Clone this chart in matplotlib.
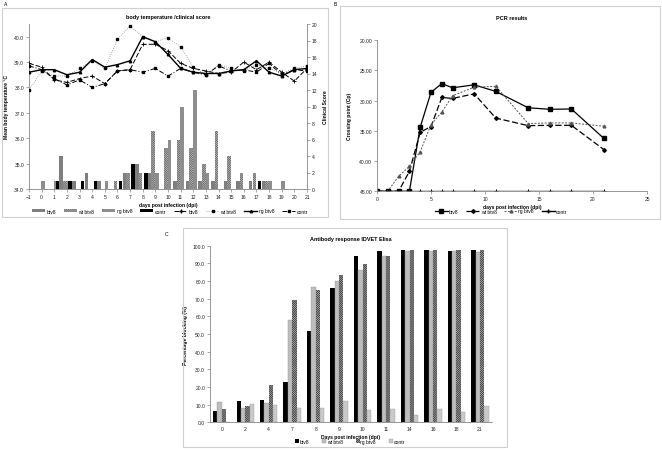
import matplotlib
matplotlib.use('Agg')
import matplotlib.pyplot as plt
import numpy as np
from matplotlib.patches import Rectangle, Patch
from matplotlib.lines import Line2D

plt.rcParams['font.family'] = ['Liberation Sans', 'DejaVu Sans']
plt.rcParams['hatch.linewidth'] = 0.35

# ---------------- Panel A data ----------------
days_a = list(range(-1, 22))
temp_btv8 = [38.95, 38.8, 38.3, 38.2, 38.35, 38.45, 38.15, 38.65, 38.7, 39.7, 39.7, 39.45, 38.95,
             38.75, 38.65, 38.55, 38.6, 39.0, 38.7, 39.0, 38.6, 38.25, 38.75]
temp_wt = [37.9, 38.65, 38.45, 38.45, 38.75, 39.05, 38.75, 39.9, 40.42, 40.0, 39.8, 39.95, 39.6,
           38.8, 38.5, 38.9, 38.75, 38.65, 38.9, 38.75, 38.55, 38.75, 38.85]
temp_rg = [38.6, 38.7, 38.7, 38.5, 38.6, 39.1, 38.8, 38.9, 39.05, 40.0, 39.8, 39.3, 38.75,
           38.6, 38.55, 38.55, 38.65, 38.7, 39.05, 38.6, 38.45, 38.7, 38.75]
temp_contr = [38.85, 38.7, 38.35, 38.1, 38.3, 38.0, 38.15, 38.65, 38.7, 38.6, 38.75, 38.45, 38.75,
              38.6, 38.5, 38.85, 38.65, 38.7, 38.6, 38.95, 38.5, 38.7, 38.65]
clin_btv8 = [0, 0, 0, 4, 1, 2, 1, 0, 2, 3, 2, 0, 1, 1, 1, 1, 1, 1, 1, 1, 0, 0, 0]
clin_wt = [0, 0, 0, 1, 0, 0, 0, 1, 2, 2, 7, 5, 6, 5, 3, 7, 4, 2, 2, 1, 0, 0, 0]
clin_rg = [0, 1, 1, 1, 0, 0, 1, 0, 0, 0, 2, 6, 10, 12, 2, 0, 0, 0, 0, 1, 1, 0, 0]
clin_contr = [0, 0, 0, 1, 1, 1, 1, 0, 1, 3, 2, 0, 0, 0, 0, 0, 0, 0, 0, 1, 0, 0, 0]

# ---------------- Panel B data ----------------
days_b = [0, 1, 2, 3, 4, 5, 6, 7, 9, 11, 14, 16, 18, 21]
cp_btv8 = [45, 45, 45, 45, 34.4, 28.65, 27.2, 27.9, 27.4, 28.5, 31.2, 31.45, 31.4, 36.25]
cp_wt = [45, 45, 45, 41.7, 35.25, 34.3, 29.5, 29.65, 28.9, 32.9, 34.15, 34.1, 34.1, 38.1]
cp_rg = [45, 45, 42.5, 40.9, 38.45, 34.0, 31.9, 29.2, 27.8, 27.65, 33.8, 33.7, 33.7, 34.25]
cp_contr = [45] * 14

# ---------------- Panel C data ----------------
days_c = ['0', '2', '4', '7', '8', '9', '10', '11', '14', '16', '18', '21']
ab_btv8 = [6.6, 12.3, 12.6, 22.8, 51.9, 75.8, 94.2, 97.2, 97.5, 97.7, 97.2, 97.7]
ab_wt = [11.3, 7.9, 11.1, 57.9, 76.4, 80.2, 86.4, 94.0, 96.8, 96.8, 96.8, 96.4]
ab_rg = [7.5, 9.2, 21.3, 69.2, 74.7, 83.4, 89.4, 94.3, 97.5, 97.7, 97.7, 97.7]
ab_contr = [0.0, 10.2, 10.0, 7.9, 8.1, 11.9, 7.2, 7.7, 4.2, 7.4, 6.0, 9.4]

W, H = 662, 452
fig = plt.figure(figsize=(W / 100, H / 100), dpi=100)
FS = 3.6
TFS = 4.0
SPC = '#868686'
HATCH = 'x' * 18


def ax_px(x0, y0, x1, y1):
    return fig.add_axes([x0 / W, 1 - y1 / H, (x1 - x0) / W, (y1 - y0) / H])


def frame(x0, y0, x1, y1):
    fig.add_artist(Rectangle((x0 / W, 1 - y1 / H), (x1 - x0) / W, (y1 - y0) / H,
                             transform=fig.transFigure, fill=False, edgecolor='#d0d0d0', lw=0.8))


def style(ax, spines=('left', 'bottom')):
    for s in ['left', 'right', 'top', 'bottom']:
        ax.spines[s].set_visible(s in spines)
        ax.spines[s].set_color(SPC)
        ax.spines[s].set_linewidth(0.6)
    ax.tick_params(length=2, width=0.5, colors=SPC, labelcolor='#222222', labelsize=FS, pad=1.5)
    ax.set_facecolor('none')


# ================= Panel A =================
frame(2, 9, 328, 218)
fig.text(4 / W, 1 - 5 / H, 'A', fontsize=FS, va='center', ha='left')
axb = ax_px(29, 25, 307, 190)
axl = axb.twinx()
style(axb, spines=('left', 'right', 'bottom'))
style(axl, spines=())
x = np.array(days_a, dtype=float)
bw = 0.28
offs = {'contr': -0.75, 'btv8': -0.46, 'wt': -0.17, 'rg': 0.12}
axb.bar(x + offs['btv8'], clin_btv8, bw, color='#7f7f7f', lw=0)
axb.bar(x + offs['wt'], clin_wt, bw, color='#e0e0e0', edgecolor='#707070', hatch=HATCH, lw=0)
axb.bar(x + offs['rg'], clin_rg, bw, color='#8e8e8e', lw=0)
axb.bar(x + offs['contr'], clin_contr, bw, color='black', lw=0)
axb.set_xlim(-1, 21)
axb.set_ylim(0, 20)
axb.set_xticks(days_a)
axb.yaxis.tick_right()
axb.yaxis.set_label_position('right')
axb.set_yticks(range(0, 21, 2))
axb.set_ylabel('Clinical Score', fontsize=FS, fontweight='bold', labelpad=4)
axb.set_xlabel('days post infection (dpi)', fontsize=FS, fontweight='bold', labelpad=2)

axl.plot(days_a, temp_btv8, color='black', ls=(0, (5, 2)), lw=0.7, marker='+', ms=2.5, mew=0.6)
axl.plot(days_a, temp_wt, color='#8a8a8a', ls=':', lw=0.6, marker='s', ms=1.8, mfc='black', mec='black')
axl.plot(days_a, temp_rg, color='black', ls='-', lw=1.0, marker='^', ms=1.8)
axl.plot(days_a, temp_contr, color='black', ls=(0, (5, 2, 1, 2)), lw=0.7, marker='s', ms=1.8)
axl.set_xlim(-1, 21)
axl.set_ylim(34, 40.5)
axl.yaxis.tick_left()
axl.yaxis.set_label_position('left')
tv = np.arange(34, 40.5, 1.0)
axl.set_yticks(tv)
axl.set_yticklabels([f'{v:.1f}' for v in tv])
axl.tick_params(axis='y', colors=SPC, labelcolor='#222222', labelsize=FS, length=2, width=0.5, pad=1.5)
axl.set_ylabel('Mean body temperature °C', fontsize=FS, fontweight='bold', labelpad=4)
axl.set_title('body temperature /clinical score', fontsize=TFS, fontweight='bold', pad=4)

hA = [Patch(facecolor='#7f7f7f'), Patch(facecolor='#e0e0e0', edgecolor='#707070', hatch=HATCH, lw=0),
      Patch(facecolor='#8e8e8e'), Patch(facecolor='black'),
      Line2D([], [], color='black', ls=(0, (5, 2)), lw=0.7, marker='+', ms=2.5),
      Line2D([], [], color='#8a8a8a', ls=':', lw=0.6, marker='s', ms=1.8, mfc='black', mec='black'),
      Line2D([], [], color='black', lw=1.0, marker='^', ms=1.8),
      Line2D([], [], color='black', ls=(0, (5, 2, 1, 2)), lw=0.7, marker='s', ms=1.8)]
lA = ['btv8', 'wt btv8', 'rg btv8', 'contr', 'btv8', 'wt btv8', 'rg btv8', 'contr']
fig.legend(hA, lA, loc='center', bbox_to_anchor=(170 / W, 1 - 212 / H), ncol=8, frameon=False,
           fontsize=FS, handlelength=2.6, handleheight=0.5, columnspacing=1.6, handletextpad=0.3)

# ================= Panel B =================
frame(340, 7, 660, 220)
fig.text(334 / W, 1 - 5 / H, 'B', fontsize=FS, va='center', ha='left')
axp = ax_px(377, 41, 647, 192.3)
style(axp)
axp.plot(days_b, cp_btv8, color='black', lw=0.9, marker='s', ms=2.2)
axp.plot(days_b, cp_wt, color='black', ls=(0, (5, 2)), lw=0.9, marker='D', ms=1.9)
axp.plot(days_b, cp_rg, color='#555555', ls=(0, (2, 1.5)), lw=0.7, marker='^', ms=2.0)
axp.plot(days_b, cp_contr, color='black', lw=1.0, marker='+', ms=2.8, mew=0.7)
axp.set_xlim(0, 25)
axp.set_ylim(45, 20)
axp.set_yticks(range(20, 46, 5))
axp.set_yticklabels([f'{v:.2f}' for v in range(20, 46, 5)])
axp.set_xticks(range(0, 26, 5))
axp.set_title('PCR results', fontsize=TFS, fontweight='bold', pad=15)
axp.set_xlabel('days post infection (dpi)', fontsize=FS, fontweight='bold', labelpad=2)
axp.set_ylabel('Crossing point (Cp)', fontsize=FS, fontweight='bold', labelpad=5)
hB = [Line2D([], [], color='black', lw=0.9, marker='s', ms=2.2),
      Line2D([], [], color='black', ls=(0, (5, 2)), lw=0.9, marker='D', ms=1.9),
      Line2D([], [], color='#555555', ls=(0, (2, 1.5)), lw=0.7, marker='^', ms=2.0),
      Line2D([], [], color='black', lw=1.0, marker='+', ms=2.8)]
fig.legend(hB, ['btv8', 'wt btv8', 'rg btv8', 'contr'], loc='center', bbox_to_anchor=(501 / W, 1 - 212 / H),
           ncol=4, frameon=False, fontsize=FS, handlelength=2.6, columnspacing=1.5, handletextpad=0.3)

# ================= Panel C =================
frame(183, 229, 507, 448)
fig.text(165 / W, 1 - 235 / H, 'C', fontsize=FS, va='center', ha='left')
axc = ax_px(210, 246.7, 491.7, 423.3)
style(axc)
xc = np.arange(len(days_c))
w = 0.185
axc.bar(xc - 1.5 * w, ab_btv8, w, color='black', lw=0)
axc.bar(xc - 0.5 * w, ab_wt, w, color='#bdbdbd', edgecolor='#9a9a9a', lw=0.3)
axc.bar(xc + 0.5 * w, ab_rg, w, color='#d0d0d0', edgecolor='#4a4a4a', hatch=HATCH, lw=0)
axc.bar(xc + 1.5 * w, ab_contr, w, color='#c9c9c9', edgecolor='#a0a0a0', lw=0.3)
axc.set_xlim(-0.5, len(days_c) - 0.5)
axc.set_ylim(0, 100)
axc.set_yticks(range(0, 101, 10))
axc.set_yticklabels([f'{v:.1f}' for v in range(0, 101, 10)])
axc.set_xticks(xc)
axc.set_xticklabels(days_c)
axc.tick_params(axis='x', length=0, pad=3)
axc.set_title('Antibody response IDVET Elisa', fontsize=TFS, fontweight='bold', pad=4)
axc.set_xlabel('Days post infection (dpi)', fontsize=FS, fontweight='bold', labelpad=2)
axc.set_ylabel('Percentage blocking (%)', fontsize=FS, fontweight='bold', labelpad=3)
hC = [Patch(facecolor='black'), Patch(facecolor='#bdbdbd', edgecolor='#9a9a9a', lw=0.3),
      Patch(facecolor='#d0d0d0', edgecolor='#4a4a4a', hatch=HATCH, lw=0),
      Patch(facecolor='#c9c9c9', edgecolor='#a0a0a0', lw=0.3)]
fig.legend(hC, ['btv8', 'wt btv8', 'rg btv8', 'contr'], loc='center', bbox_to_anchor=(350 / W, 1 - 442.5 / H),
           ncol=4, frameon=False, fontsize=FS, handlelength=0.8, handleheight=0.8, columnspacing=2.5,
           handletextpad=0.2)

fig.savefig('out.png', dpi=100, facecolor='white')
